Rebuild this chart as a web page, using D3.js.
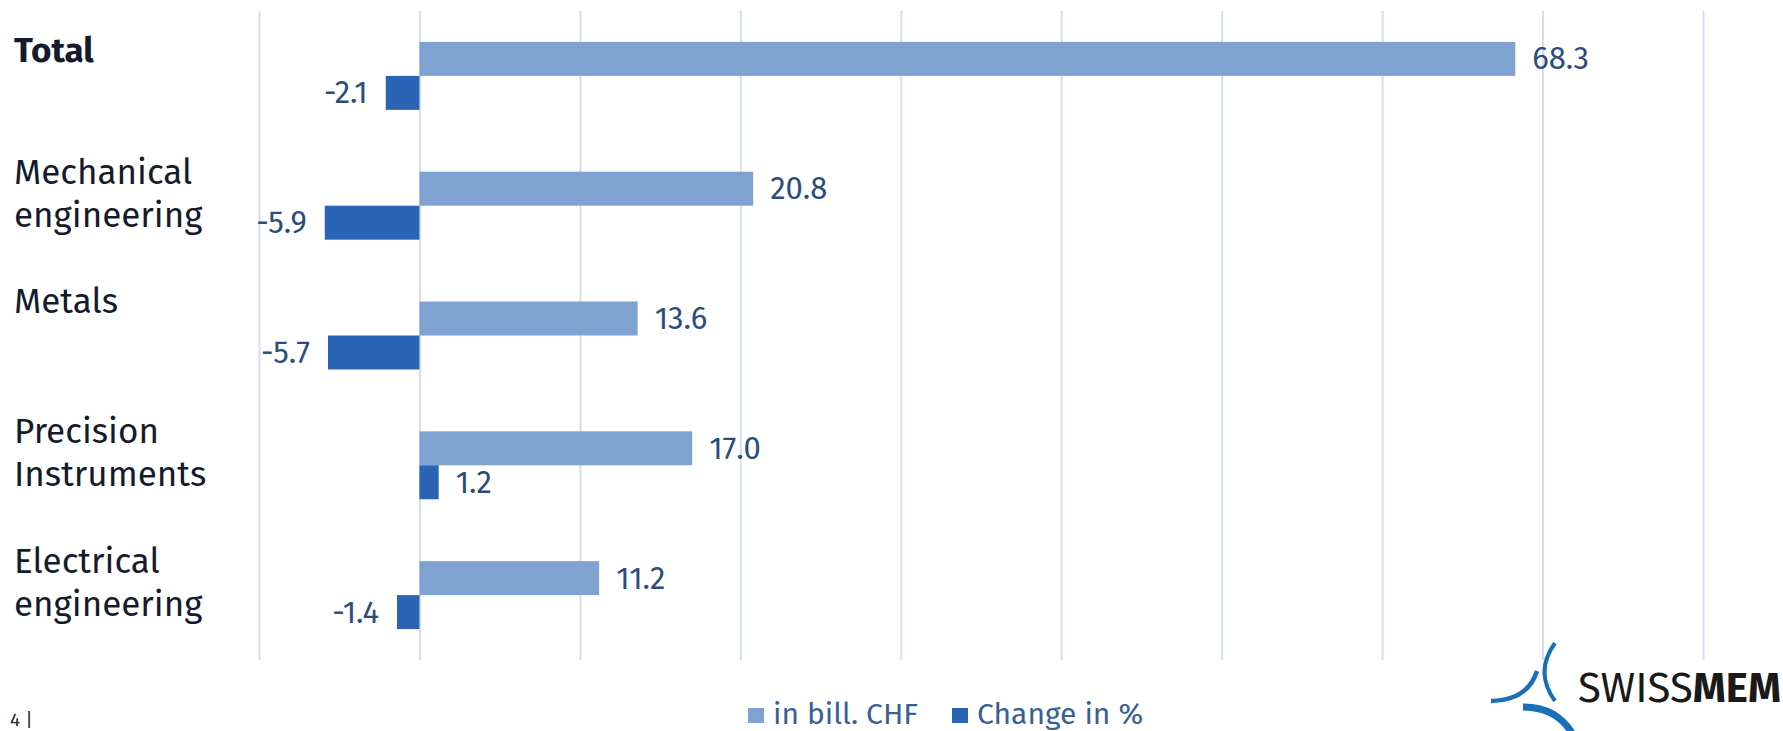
<!DOCTYPE html>
<html>
<head>
<meta charset="utf-8">
<script src="https://cdn.jsdelivr.net/npm/d3@7"></script>
<style>
html,body{margin:0;padding:0;background:#fff;}
svg{display:block;}
text{font-family:"Fira Sans","Lato","Open Sans",sans-serif;}
</style>
</head>
<body>
<svg id="chart" width="1783" height="731"></svg>
<script>
const categories = ["Total", "Mechanical engineering", "Metals", "Precision Instruments", "Electrical engineering"];
const categoryLines = [["Total"], ["Mechanical", "engineering"], ["Metals"], ["Precision", "Instruments"], ["Electrical", "engineering"]];
const valuesCHF = [68.3, 20.8, 13.6, 17.0, 11.2];
const changePct = [-2.1, -5.9, -5.7, 1.2, -1.4];
const seriesNames = ["in bill. CHF", "Change in %"];
const xTicks = [-10, 0, 10, 20, 30, 40, 50, 60, 70, 80];

const colors = {"in bill. CHF": "#7fa3d1", "Change in %": "#2b64b4"};
const svg = d3.select("#chart");
const fmt = d3.formatLocale({decimal: ".", thousands: ",", grouping: [3], currency: ["", ""], minus: "-"}).format(".1f");

const x = d3.scaleLinear().domain([-10, 80]).range([259, 1703]);
const y0 = d3.scaleBand().domain(categories).range([11, 660]).padding(0);
const y1 = d3.scaleBand().domain(seriesNames).range([0, y0.bandwidth()]).paddingInner(0).paddingOuter(0.91);

// gridlines
const grid = svg.append("g").attr("transform", "translate(0,660)")
  .call(d3.axisBottom(x).tickValues(xTicks).tickSize(-649).tickFormat(""));
grid.select(".domain").remove();
grid.selectAll(".tick line").attr("stroke", "#d3def0").attr("stroke-width", 2);

const rows = categories.map((c, i) => ({cat: c, lines: categoryLines[i], vals: [
  {s: seriesNames[0], v: valuesCHF[i]}, {s: seriesNames[1], v: changePct[i]}]}));

const g = svg.selectAll("g.cat").data(rows).join("g").attr("class", "cat")
  .attr("transform", d => `translate(0,${y0(d.cat)})`);

g.selectAll("rect").data(d => d.vals).join("rect")
  .attr("x", d => x(Math.min(0, d.v)))
  .attr("width", d => Math.abs(x(d.v) - x(0)))
  .attr("y", d => y1(d.s))
  .attr("height", y1.bandwidth())
  .attr("fill", d => colors[d.s]);

g.selectAll("text.val").data(d => d.vals).join("text").attr("class", "val")
  .attr("x", d => d.v >= 0 ? x(d.v) + 17 : x(d.v) - 18)
  .attr("y", d => y1(d.s) + y1.bandwidth() / 2)
  .attr("dy", "0.34em")
  .attr("text-anchor", d => d.v >= 0 ? "start" : "end")
  .attr("font-size", 31)
  .attr("fill", "#2c4c7c")
  .text(d => fmt(d.v));

// category labels
g.append("text")
  .attr("x", 14)
  .attr("y", d => y0.bandwidth() / 2 + (d.cat === "Total" ? -14 : -22))
  .attr("font-size", 35)
  .attr("font-weight", d => d.cat === "Total" ? 700 : 400)
  .attr("fill", "#151a2c")
  .selectAll("tspan").data(d => d.lines).join("tspan")
  .attr("x", 14)
  .attr("dy", (d, i) => i === 0 ? 0 : 43)
  .text(d => d);

// legend
const leg = svg.append("g");
const legItems = [{s: seriesNames[0], x: 748}, {s: seriesNames[1], x: 952}];
leg.selectAll("rect").data(legItems).join("rect")
  .attr("x", d => d.x).attr("y", 708).attr("width", 16).attr("height", 15)
  .attr("fill", d => colors[d.s]);
leg.selectAll("text").data(legItems).join("text")
  .attr("x", d => d.x + 25).attr("y", 724)
  .attr("font-size", 30).attr("fill", "#3a5f94")
  .text(d => d.s);

// page number
svg.append("text").attr("x", 10).attr("y", 726).attr("font-size", 19).attr("fill", "#2a2a2a").text("4 |");

// logo
const logo = svg.append("g").attr("fill", "none").attr("stroke", "#1a70b8").attr("stroke-linecap", "butt");
logo.append("path").attr("d", "M1491,701 Q1528,700 1537,671").attr("stroke-width", 4.5);
logo.append("path").attr("d", "M1555,643 Q1534,672 1555,701").attr("stroke-width", 4);
logo.append("path").attr("d", "M1523,707 Q1556,707 1572,733").attr("stroke-width", 7);
const lt = svg.append("text").attr("x", 1578).attr("y", 702).attr("font-size", 42).attr("fill", "#1a1a1a")
  .attr("font-family", "'Open Sans','Lato',sans-serif");
lt.append("tspan").text("SWISS");
lt.append("tspan").attr("font-weight", 700).text("MEM");
</script>
</body>
</html>
